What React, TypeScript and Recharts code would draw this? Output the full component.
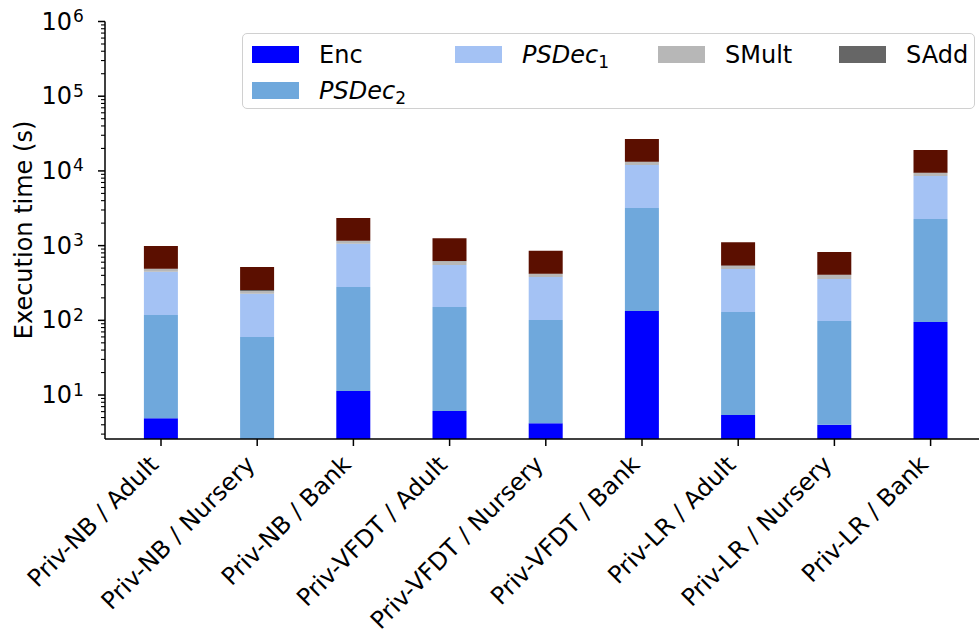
import React from "react";
import { BarChart, Bar, XAxis, YAxis, Legend } from "recharts";

const categories = [
  "Priv-NB / Adult",
  "Priv-NB / Nursery",
  "Priv-NB / Bank",
  "Priv-VFDT / Adult",
  "Priv-VFDT / Nursery",
  "Priv-VFDT / Bank",
  "Priv-LR / Adult",
  "Priv-LR / Nursery",
  "Priv-LR / Bank",
];

// seconds per stage, bottom to top of each stack
const encTimes = [4.9, 1.8, 11.3, 6.1, 4.2, 133, 5.4, 4.0, 95];
const psDec2Times = [113, 58, 268, 145, 97, 3053, 124, 94, 2175];
const psDec1Times = [330, 167, 780, 400, 279, 8800, 357, 259, 6280];
const sMultTimes = [38, 20, 94, 65, 37, 1150, 47, 47, 820];
const sAddTimes = [4, 7, 10, 8, 4, 100, 8, 5, 80];
const otherTimes = [500, 263, 1180, 635, 430, 13450, 570, 412, 9550];

const majorTicks = [10, 100, 1000, 10000, 100000, 1000000];
const yDomain = [2.58, 1000000];

const data = categories.map((name, i) => ({
  name,
  enc: encTimes[i],
  psdec2: psDec2Times[i],
  psdec1: psDec1Times[i],
  smult: sMultTimes[i],
  sadd: sAddTimes[i],
  other: otherTimes[i],
}));

// minor log ticks 2..9 x 10^k inside the domain, plus the majors
const yTicks: number[] = [];
for (let k = 0; k < 6; k++) {
  for (let m = 2; m < 10; m++) {
    const v = m * Math.pow(10, k);
    if (v >= yDomain[0] && v <= yDomain[1]) yTicks.push(v);
  }
}
yTicks.push(...majorTicks);
yTicks.sort((a, b) => a - b);

const series = [
  { key: "enc", color: "#0000ff" },
  { key: "psdec2", color: "#6fa8dc" },
  { key: "psdec1", color: "#a4c2f4" },
  { key: "smult", color: "#b7b7b7" },
  { key: "sadd", color: "#666666" },
  { key: "other", color: "#5b0f00" },
];

const FONT = "DejaVu Sans";
const FS = 24;

function YTick(props: any) {
  const { x, y, payload } = props;
  const v = payload.value;
  if (!majorTicks.includes(v)) {
    return <line x1={x - 4} x2={x} y1={y} y2={y} stroke="#000" strokeWidth={1.1} />;
  }
  const exp = Math.round(Math.log10(v));
  return (
    <g>
      <line x1={x - 7} x2={x} y1={y} y2={y} stroke="#000" strokeWidth={1.5} />
      <text x={x - 33} y={y} textAnchor="end" fontFamily={FONT} fontSize={FS} fill="#000" dominantBaseline="central">
        10
      </text>
      <text x={x - 32} y={y + 0.5} textAnchor="start" fontFamily={FONT} fontSize={17} fill="#000">
        {exp}
      </text>
    </g>
  );
}

function XTick(props: any) {
  const { x, payload } = props;
  const ax = x - 1;
  const ay = 466;
  return (
    <text
      x={ax}
      y={ay}
      textAnchor="end"
      fontFamily={FONT}
      fontSize={FS}
      fill="#000"
      transform={`rotate(-45, ${ax}, ${ay})`}
    >
      {payload.value}
    </text>
  );
}

function PSDec({ n }: { n: string }) {
  return (
    <span>
      <span style={{ fontStyle: "italic" }}>PSDec</span>
      <span style={{ fontSize: 17, position: "relative", top: 5 }}>{n}</span>
    </span>
  );
}

const legendItems = [
  { color: "#0000ff", label: <span>Enc</span>, hx: 9, row: 0 },
  { color: "#6fa8dc", label: <PSDec n="2" />, hx: 9, row: 1 },
  { color: "#a4c2f4", label: <PSDec n="1" />, hx: 212, row: 0 },
  { color: "#b7b7b7", label: <span>SMult</span>, hx: 415, row: 0 },
  { color: "#666666", label: <span>SAdd</span>, hx: 596, row: 0 },
];

function LegendBox() {
  return (
    <div
      style={{
        position: "relative",
        width: 733,
        height: 76,
        boxSizing: "border-box",
        border: "1.5px solid #d0d0d0",
        borderRadius: 5,
        background: "rgba(255,255,255,0.8)",
        fontFamily: FONT,
        fontSize: FS,
        color: "#000",
      }}
    >
      {legendItems.map((it, i) => {
        const cy = it.row === 0 ? 20.5 : 56.5;
        return (
          <React.Fragment key={i}>
            <div
              style={{
                position: "absolute",
                left: it.hx,
                top: cy - 8.5,
                width: 47,
                height: 17,
                background: it.color,
              }}
            />
            <div
              style={{
                position: "absolute",
                left: it.hx + 67,
                top: cy - 15,
                height: 30,
                lineHeight: "30px",
                whiteSpace: "nowrap",
              }}
            >
              {it.label}
            </div>
          </React.Fragment>
        );
      })}
    </div>
  );
}

export default function App() {
  return (
    <div style={{ position: "absolute", left: 0, top: 0, width: 979, height: 635, overflow: "hidden", background: "#fff" }}>
      <BarChart
        width={992}
        height={635}
        data={data}
        margin={{ top: 21.5, right: 4.4, left: 5, bottom: 6 }}
      >
        <XAxis
          dataKey="name"
          interval={0}
          height={190}
          padding={{ left: 7.9, right: 8.9 }}
          axisLine={{ stroke: "#000", strokeWidth: 1.5 }}
          tickLine={{ stroke: "#000", strokeWidth: 1.5 }}
          tickSize={7}
          tick={<XTick />}
        />
        <XAxis
          xAxisId="top"
          orientation="top"
          dataKey="name"
          height={0}
          tick={false}
          tickLine={false}
          axisLine={{ stroke: "#000", strokeWidth: 1.5 }}
        />
        <YAxis
          scale="log"
          domain={yDomain}
          allowDataOverflow
          ticks={yTicks}
          interval={0}
          width={100}
          tickSize={0}
          tickMargin={0}
          tickLine={false}
          axisLine={{ stroke: "#000", strokeWidth: 1.5 }}
          tick={<YTick />}
          label={{
            content: () => (
              <text
                x={32}
                y={230}
                textAnchor="middle"
                fontFamily={FONT}
                fontSize={FS}
                fill="#000"
                transform="rotate(-90, 32, 230)"
              >
                Execution time (s)
              </text>
            ),
          }}
        />
        <Legend
          layout="horizontal"
          verticalAlign="middle"
          align="center"
          wrapperStyle={{ left: 242, top: 33, width: 733, height: 76 }}
          content={() => <LegendBox />}
        />
        {series.map((s) => (
          <Bar
            key={s.key}
            dataKey={s.key}
            stackId="t"
            fill={s.color}
            barSize={34}
            isAnimationActive={false}
          />
        ))}
      </BarChart>
    </div>
  );
}
